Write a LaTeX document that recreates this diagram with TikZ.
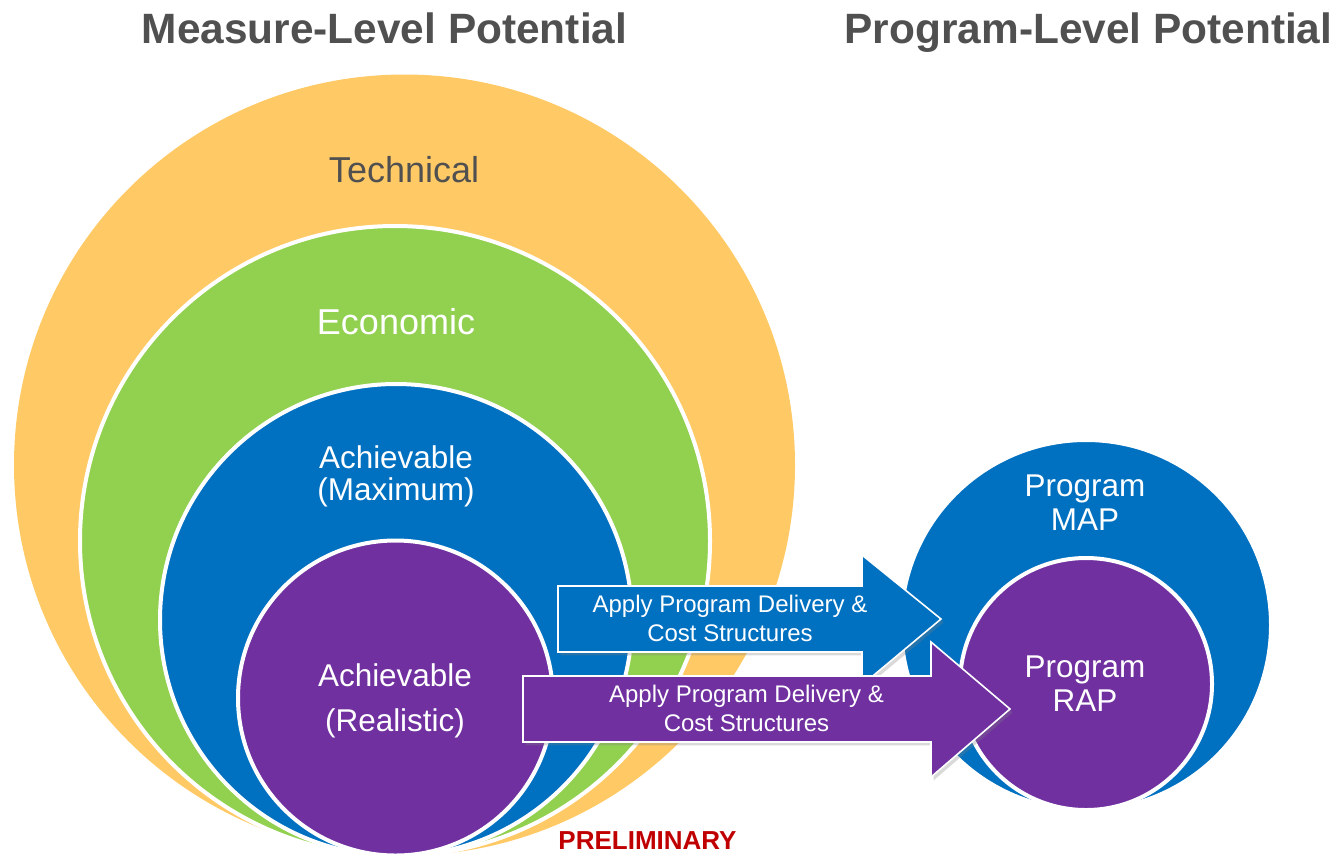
\documentclass[tikz,border=0pt]{standalone}
\usepackage{fontspec}
\setmainfont{Liberation Sans}
\usetikzlibrary{shadows}

\definecolor{techorange}{HTML}{FFCA66}
\definecolor{econgreen}{HTML}{92D050}
\definecolor{achblue}{HTML}{0070C0}
\definecolor{achpurple}{HTML}{7030A0}
\definecolor{headgray}{HTML}{505050}
\definecolor{prelimred}{HTML}{C00000}

\begin{document}
\begin{tikzpicture}[x=0.75pt,y=-0.75pt,
  ring/.style={draw=white,line width=3pt},
  flow/.style={draw=white,line width=1.2pt,
    drop shadow={shadow xshift=2pt,shadow yshift=-2.5pt,opacity=0.3}},
  heading/.style={anchor=base,text=headgray,font=\fontsize{31.8}{36}\selectfont\bfseries},
  lvlbig/.style={anchor=base,font=\fontsize{27}{30}\selectfont},
  lvl/.style={align=center,text=white,font=\fontsize{23.6}{24}\selectfont},
  flowtext/.style={align=center,text=white,font=\fontsize{18}{21.75}\selectfont}]
\path[use as bounding box] (0,0) rectangle (1337,854);
\clip (0,0) rectangle (1337,854);

% measure-level circles, all touching at the bottom
\fill[techorange] (404.5,465) circle (390.5);
\draw[ring,fill=econgreen] (395,541) circle (315);
\draw[ring,fill=achblue] (396,620) circle (236);
\draw[ring,fill=achpurple] (395.5,698) circle (157.5);

% program-level circles
\draw[ring,fill=achblue] (1086,625) circle (185);
\draw[ring,fill=achpurple] (1086,684) circle (126);

% arrows
\draw[flow,fill=achblue] (558,586) -- (862,586) -- (862,555) -- (941,619)
  -- (862,685) -- (862,652) -- (558,652) -- cycle;
\draw[flow,fill=achpurple] (523,676) -- (931,676) -- (931,642) -- (1010,709)
  -- (931,777) -- (931,742) -- (523,742) -- cycle;

% titles
\node[heading] (mtitle) at (384.5,43) {Measure-Level Potential};
\node[heading] (ptitle) at (1088.5,43) {Program-Level Potential};

% circle labels
\node[lvlbig,text=headgray] (tech) at (404,182) {Technical};
\node[lvlbig,text=white] (econ) at (396,334) {Economic};
\node[lvl] (maxach) at (396,476) {Achievable\\(Maximum)};
\node[lvl,font=\fontsize{23.6}{33.75}\selectfont] (realach) at (395,701) {Achievable\\(Realistic)};
\node[lvl,font=\fontsize{23.6}{25.5}\selectfont] (pmap) at (1085,502.5) {Program\\MAP};
\node[lvl,font=\fontsize{23.6}{25.5}\selectfont] (prap) at (1085,683.5) {Program\\RAP};

% arrow labels
\node[flowtext] (mapflow) at (730,618.75) {Apply Program Delivery \&\\Cost Structures};
\node[flowtext] (rapflow) at (746.5,708.75) {Apply Program Delivery \&\\Cost Structures};

\node[anchor=base,text=prelimred,font=\fontsize{19.5}{22}\selectfont\bfseries] (prelim) at (647.5,849) {PRELIMINARY};
\end{tikzpicture}
\end{document}
